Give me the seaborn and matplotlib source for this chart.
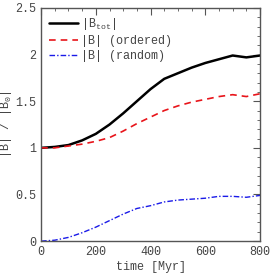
import matplotlib
matplotlib.use('Agg')
import matplotlib.pyplot as plt
import seaborn as sns
import pandas as pd
from matplotlib.ticker import MultipleLocator

# Data
time_myr = [0, 50, 100, 150, 200, 250, 300, 350, 400, 450, 500, 550, 600, 650, 700, 750, 800]
b_tot    = [1.00, 1.01, 1.03, 1.08, 1.15, 1.25, 1.37, 1.50, 1.63, 1.74, 1.80, 1.86, 1.91, 1.95, 1.99, 1.97, 1.99]
b_ord    = [1.00, 1.00, 1.02, 1.04, 1.07, 1.11, 1.18, 1.26, 1.33, 1.40, 1.45, 1.49, 1.52, 1.55, 1.57, 1.55, 1.58]
b_rand   = [0.00, 0.01, 0.04, 0.09, 0.15, 0.22, 0.29, 0.35, 0.38, 0.42, 0.44, 0.45, 0.46, 0.48, 0.48, 0.47, 0.49]

x_ticks = [0, 200, 400, 600, 800]
y_ticks = [0, 0.5, 1, 1.5, 2, 2.5]
y_tick_labels = ['0', '0.5', '1', '1.5', '2', '2.5']

df = pd.DataFrame({'time': time_myr, 'tot': b_tot, 'ord': b_ord, 'rand': b_rand})

sns.set_style('white')
plt.rcParams['font.family'] = ['Liberation Mono', 'DejaVu Sans Mono']
plt.rcParams['mathtext.fontset'] = 'custom'
plt.rcParams['mathtext.rm'] = 'Liberation Mono'
plt.rcParams['mathtext.it'] = 'Liberation Mono'

fig = plt.figure(figsize=(2.74, 2.74), dpi=100)
ax = fig.add_axes([0.15, 0.12, 0.799, 0.851])

sns.lineplot(data=df, x='time', y='tot', ax=ax, color='black', lw=1.8,
             label=r'|B$_{\rm tot}$|')
sns.lineplot(data=df, x='time', y='ord', ax=ax, color='#e8141a', lw=1.2,
             linestyle=(0, (4, 3)), label='|B| (ordered)')
sns.lineplot(data=df, x='time', y='rand', ax=ax, color='#1a1ae8', lw=1.0,
             linestyle=(0, (4, 1.5, 1, 1.5)), label='|B| (random)')

ax.set_xlim(0, 800)
ax.set_ylim(0, 2.5)
ax.set_xticks(x_ticks)
ax.set_xticklabels([str(t) for t in x_ticks])
ax.set_yticks(y_ticks)
ax.set_yticklabels(y_tick_labels)
ax.xaxis.set_minor_locator(MultipleLocator(50))
ax.yaxis.set_minor_locator(MultipleLocator(0.1))
ax.tick_params(which='both', direction='in', top=True, right=True,
               labelsize=8.5, colors='#555555', labelcolor='#444444')
ax.tick_params(which='major', length=5, width=0.8)
ax.tick_params(which='minor', length=2.5, width=0.6)
for s in ax.spines.values():
    s.set_color('#555555')
    s.set_linewidth(1.0)

ax.set_xlabel('time [Myr]', fontsize=8.5, color='#444444', labelpad=2)
ax.set_ylabel(r'|B| / |B$_0$|', fontsize=8.5, color='#444444', labelpad=1)

leg = ax.legend(loc='upper left', frameon=False, fontsize=8.5,
                handlelength=2.4, handletextpad=0.3, labelspacing=0.25,
                borderaxespad=0.3)
for t in leg.get_texts():
    t.set_color('#444444')

fig.savefig('out.png', dpi=100)
